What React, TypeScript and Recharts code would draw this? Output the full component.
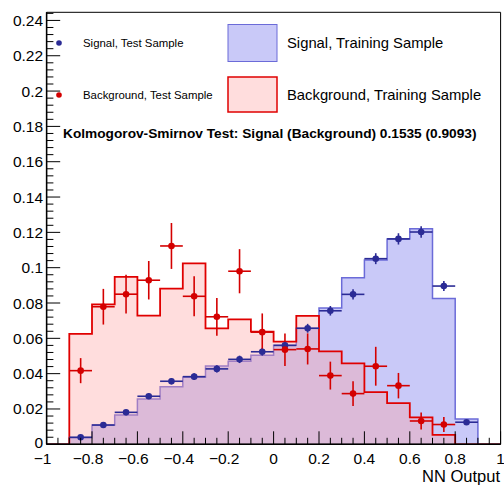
import React from "react";
import {
  ComposedChart,
  Area,
  Scatter,
  ErrorBar,
  XAxis,
  YAxis,
  ReferenceArea,
} from "recharts";

// histogram binning on the NN output
const binEdges = [
  -1, -0.9, -0.8, -0.7, -0.6, -0.5, -0.4, -0.3, -0.2, -0.1, 0, 0.1, 0.2, 0.3,
  0.4, 0.5, 0.6, 0.7, 0.8, 0.9, 1,
];

// training samples (one value per bin)
const sigTrain = [
  0, 0.0037, 0.0109, 0.0166, 0.0257, 0.0326, 0.0379, 0.0444, 0.047, 0.0504,
  0.0561, 0.0657, 0.0772, 0.0943, 0.1044, 0.1163, 0.122, 0.0825, 0.0143, 0,
];
const bkgTrain = [
  0, 0.0625, 0.0792, 0.0948, 0.0728, 0.0882, 0.1024, 0.0656, 0.0707, 0.0638,
  0.0581, 0.0727, 0.0526, 0.0458, 0.0295, 0.0233, 0.0153, 0.0053, 0, 0,
];

// test samples at bin centres
const sigCenters = [
  -0.85, -0.75, -0.65, -0.55, -0.45, -0.35, -0.25, -0.15, -0.05, 0.05, 0.15,
  0.25, 0.35, 0.45, 0.55, 0.65, 0.75, 0.85,
];
const sigTest = [
  0.004, 0.0109, 0.0181, 0.0272, 0.0357, 0.0383, 0.0427, 0.0481, 0.0524,
  0.056, 0.0657, 0.0756, 0.0849, 0.1051, 0.1163, 0.1202, 0.0896, 0.0125,
];
const sigTestErr = [
  0.0006, 0.001, 0.0013, 0.0016, 0.0018, 0.0019, 0.002, 0.0021, 0.0022,
  0.0023, 0.0025, 0.0027, 0.0029, 0.0031, 0.0032, 0.0033, 0.0028, 0.001,
];
const bkgCenters = [
  -0.85, -0.75, -0.65, -0.55, -0.45, -0.35, -0.25, -0.15, -0.05, 0.05, 0.15,
  0.25, 0.35, 0.45, 0.55, 0.65, 0.75,
];
const bkgTest = [
  0.0417, 0.0779, 0.085, 0.0929, 0.1123, 0.0838, 0.0722, 0.098, 0.0635,
  0.0536, 0.054, 0.0389, 0.0287, 0.0442, 0.0332, 0.0132, 0.0112,
];
const bkgTestErr = [
  0.0071, 0.0101, 0.011, 0.0109, 0.013, 0.0113, 0.0107, 0.0125, 0.0106,
  0.0092, 0.0088, 0.0079, 0.007, 0.011, 0.0072, 0.0048, 0.0042,
];

const xMajorTicks = [-1, -0.8, -0.6, -0.4, -0.2, 0, 0.2, 0.4, 0.6, 0.8, 1];
const yMajorTicks = [0, 0.02, 0.04, 0.06, 0.08, 0.1, 0.12, 0.14, 0.16, 0.18, 0.2, 0.22, 0.24];

const Y_MAX = 0.2446;
const FONT = "'Liberation Sans', Arial, Helvetica, sans-serif";

const SIG_FILL = "#c9c9f8";
const SIG_LINE = "#6b6bd8";
const SIG_POINT = "#2b2b95";
const BKG_LINE = "#e00000";
const BKG_POINT = "#d40000";
const BKG_TINT = "#ffa0a0";
const BKG_TINT_OPACITY = 0.36;

// minor ticks: 4 per 0.2 on x, 5 per 0.02 on y
const xTicks = Array.from({ length: 41 }, (_, i) => Math.round((-1 + i * 0.05) * 100) / 100);
const yTicks = Array.from({ length: 62 }, (_, i) => Math.round(i * 0.004 * 1000) / 1000);

const histData = binEdges.map((x, i) => ({
  x,
  sig: i < sigTrain.length ? sigTrain[i] : 0,
  bkg: i < bkgTrain.length ? bkgTrain[i] : 0,
}));
const sigPoints = sigCenters.map((x, i) => ({ x, y: sigTest[i], ey: sigTestErr[i], ex: 0.05 }));
const bkgPoints = bkgCenters.map((x, i) => ({ x, y: bkgTest[i], ey: bkgTestErr[i], ex: 0.05 }));

const isMajor = (v: number, list: number[]) => list.some((m) => Math.abs(m - v) < 1e-6);
const fmt = (v: number) => {
  const s = String(Math.round(v * 100) / 100);
  return v < 0 ? "\u2212" + s.slice(1) : s;
};

const XTick = (props: any) => {
  const { x, y, payload } = props;
  const major = isMajor(payload.value, xMajorTicks);
  return (
    <g>
      <line x1={x} y1={y} x2={x} y2={y - (major ? 13 : 6.5)} stroke="#000" strokeWidth={1} />
      {major && (
        <text
          x={payload.value < 0 ? x - 4 : x}
          y={y + 14}
          textAnchor="middle"
          dominantBaseline="central"
          fontSize={15.5}
          fontFamily={FONT}
          fill="#000"
        >
          {fmt(payload.value)}
        </text>
      )}
    </g>
  );
};

const YTick = (props: any) => {
  const { x, y, payload } = props;
  const major = isMajor(payload.value, yMajorTicks);
  return (
    <g>
      <line x1={x} y1={y} x2={x + (major ? 13.6 : 6.8)} y2={y} stroke="#000" strokeWidth={1} />
      {major && (
        <text
          x={x - 3.5}
          y={payload.value === 0 ? y - 2 : y}
          textAnchor="end"
          dominantBaseline="central"
          fontSize={15.5}
          fontFamily={FONT}
          fill="#000"
        >
          {fmt(payload.value)}
        </text>
      )}
    </g>
  );
};

const Dot = (color: string) => (props: any) =>
  <circle cx={props.cx} cy={props.cy} r={3.3} fill={color} />;

function OvertrainingPlot() {
  return (
    <div style={{ position: "absolute", left: 0, top: 0, width: 504, height: 487, background: "#fff" }}>
      <ComposedChart
        width={504}
        height={487}
        data={histData}
        margin={{ top: 12.3, right: 3.4, bottom: 12.7, left: 0 }}
      >
        <XAxis
          dataKey="x"
          type="number"
          domain={[-1, 1]}
          ticks={xTicks}
          interval={0}
          allowDataOverflow
          height={30}
          tickSize={0}
          tickMargin={0}
          tickLine={false}
          axisLine={{ stroke: "#000", strokeWidth: 1.5 }}
          tick={<XTick />}
        />
        <YAxis
          type="number"
          domain={[0, Y_MAX]}
          ticks={yTicks}
          interval={0}
          allowDataOverflow
          width={46.6}
          tickSize={0}
          tickMargin={0}
          tickLine={false}
          axisLine={{ stroke: "#000", strokeWidth: 1.5 }}
          tick={<YTick />}
        />
        <Area
          type="stepAfter"
          dataKey="sig"
          stroke={SIG_LINE}
          strokeWidth={1.5}
          fill={SIG_FILL}
          fillOpacity={1}
          isAnimationActive={false}
          dot={false}
          activeDot={false}
        />
        {/* background training sample: translucent red over the signal fill */}
        <Area
          type="stepAfter"
          dataKey="bkg"
          stroke={BKG_LINE}
          strokeWidth={1.8}
          fill={BKG_TINT}
          fillOpacity={BKG_TINT_OPACITY}
          isAnimationActive={false}
          dot={false}
          activeDot={false}
        />
        <Scatter data={sigPoints} dataKey="y" shape={Dot(SIG_POINT)} isAnimationActive={false}>
          <ErrorBar dataKey="ey" direction="y" width={0} stroke={SIG_POINT} strokeWidth={1.6} />
          <ErrorBar dataKey="ex" direction="x" width={0} stroke={SIG_POINT} strokeWidth={1.6} />
        </Scatter>
        <Scatter data={bkgPoints} dataKey="y" shape={Dot(BKG_POINT)} isAnimationActive={false}>
          <ErrorBar dataKey="ey" direction="y" width={0} stroke={BKG_POINT} strokeWidth={1.6} />
          <ErrorBar dataKey="ex" direction="x" width={0} stroke={BKG_POINT} strokeWidth={1.6} />
        </Scatter>
        <ReferenceArea x1={-1} x2={1} y1={0} y2={Y_MAX} fill="none" stroke="#000" strokeWidth={1} />
      </ComposedChart>

      {/* legend, KS result and axis title */}
      <svg
        width={504}
        height={487}
        style={{ position: "absolute", left: 0, top: 0, pointerEvents: "none" }}
      >
        <g fontFamily={FONT} fill="#000">
          <circle cx={59} cy={43} r={2.8} fill={SIG_POINT} />
          <text x={83} y={43} fontSize={11.4} dominantBaseline="central">
            Signal, Test Sample
          </text>
          <circle cx={59} cy={95} r={2.8} fill={BKG_POINT} />
          <text x={83} y={94.5} fontSize={11.4} dominantBaseline="central">
            Background, Test Sample
          </text>
          <rect x={228} y={24.5} width={49} height={37} fill={SIG_FILL} stroke={SIG_LINE} strokeWidth={1} />
          <text x={287} y={43} fontSize={14.8} dominantBaseline="central">
            Signal, Training Sample
          </text>
          <rect
            x={228}
            y={77}
            width={49}
            height={35}
            fill={BKG_TINT}
            fillOpacity={BKG_TINT_OPACITY}
            stroke={BKG_LINE}
            strokeWidth={1.5}
          />
          <text x={287} y={94.5} fontSize={14.8} dominantBaseline="central">
            Background, Training Sample
          </text>
          <text x={63} y={133.5} fontSize={13.7} fontWeight="bold" dominantBaseline="central">
            Kolmogorov-Smirnov Test: Signal (Background) 0.1535 (0.9093)
          </text>
          <text x={500} y={476} fontSize={16.5} textAnchor="end" dominantBaseline="central">
            NN Output
          </text>
        </g>
      </svg>
    </div>
  );
}

export default function App() {
  return <OvertrainingPlot />;
}
